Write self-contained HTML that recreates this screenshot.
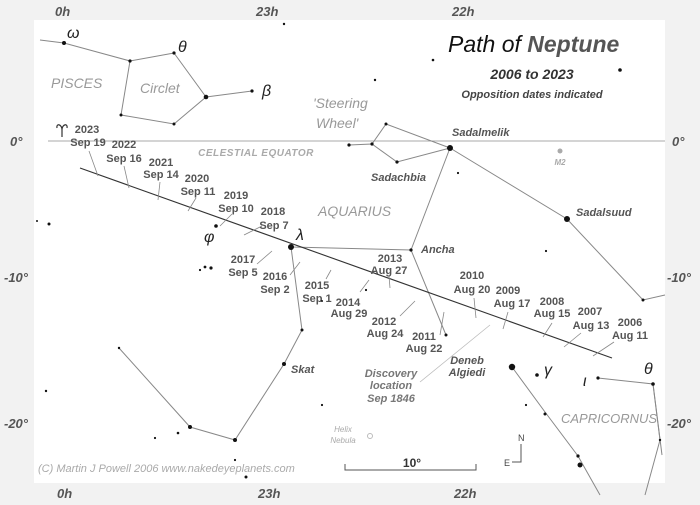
<!DOCTYPE html>
<html><head><meta charset="utf-8"><style>
html,body{margin:0;padding:0;background:#f2f2f2;}
svg{display:block;}
text{font-family:"Liberation Sans",Arial,sans-serif;}
.d{font-size:11px;font-weight:bold;fill:#555;text-anchor:middle;}
.ax{font-size:13px;font-weight:bold;font-style:italic;fill:#555;}
.st{font-size:11px;font-weight:bold;font-style:italic;fill:#555;}
.con{font-size:14px;font-style:italic;fill:#999;}
.gr{font-family:"Liberation Serif",serif;font-style:italic;font-size:16px;fill:#222;}
</style></head><body>
<svg width="700" height="505" viewBox="0 0 700 505" xmlns="http://www.w3.org/2000/svg">
<rect x="0" y="0" width="700" height="505" fill="#f2f2f2"/>
<rect x="34" y="20" width="631" height="463" fill="#fff"/>
<g class="ax">
<text x="55" y="16">0h</text><text x="256" y="16">23h</text><text x="452" y="16">22h</text>
<text x="57" y="498">0h</text><text x="258" y="498">23h</text><text x="454" y="498">22h</text>
<text x="10" y="146">0°</text><text x="672" y="146">0°</text>
<text x="4" y="282">-10°</text><text x="667" y="282">-10°</text>
<text x="4" y="428">-20°</text><text x="667" y="428">-20°</text>
</g>
<line x1="48" y1="141" x2="665" y2="141" stroke="#aaa" stroke-width="1"/>
<text x="256" y="156" style="font-size:10px;font-weight:bold;font-style:italic;fill:#aaa;text-anchor:middle;letter-spacing:0.5px">CELESTIAL EQUATOR</text>
<g stroke="#888" stroke-width="1" fill="none">
<polyline points="40,40 64,43 130,61 174,53"/>
<polyline points="130,61 121,115 174,124 206,97 174,53"/>
<line x1="206" y1="97" x2="252" y2="91"/>
<polyline points="349,145 372,144 386,124 450,148"/>
<polyline points="372,144 397,162 450,148"/>
<polyline points="450,148 567,219 643,300 665,295"/>
<line x1="450" y1="148" x2="411" y2="250"/>
<line x1="291" y1="247" x2="411" y2="250"/>
<line x1="411" y1="250" x2="446" y2="335"/>
<polyline points="291,247 302,330 284,364 235,440 190,427 119,348"/>
<polyline points="512,367 545,412 578,456 600,495"/>
<polyline points="598,378 653,384 660,440 645,495"/>
<line x1="653" y1="384" x2="662" y2="455"/>
</g>
<line x1="80" y1="168" x2="612" y2="358" stroke="#333" stroke-width="1.1"/>
<g stroke="#888" stroke-width="0.8">
<line x1="89" y1="151" x2="98" y2="176"/>
<line x1="124" y1="166" x2="129" y2="188"/>
<line x1="160" y1="182" x2="158" y2="200"/>
<line x1="196" y1="198" x2="188" y2="211"/>
<line x1="232" y1="214" x2="220" y2="226"/>
<line x1="262" y1="226" x2="244" y2="235"/>
<line x1="257" y1="264" x2="272" y2="251"/>
<line x1="290" y1="275" x2="300" y2="262"/>
<line x1="326" y1="279" x2="331" y2="270"/>
<line x1="360" y1="292" x2="369" y2="280"/>
<line x1="389" y1="276" x2="390" y2="288"/>
<line x1="400" y1="316" x2="415" y2="301"/>
<line x1="440" y1="335" x2="444" y2="312"/>
<line x1="474" y1="298" x2="476" y2="318"/>
<line x1="508" y1="312" x2="503" y2="329"/>
<line x1="552" y1="323" x2="543" y2="337"/>
<line x1="581" y1="333" x2="564" y2="347"/>
<line x1="614" y1="342" x2="593" y2="356"/>
<line x1="420" y1="382" x2="490" y2="325" stroke="#bbb"/>
</g>
<g class="d">
<text x="87" y="133">2023</text><text x="88" y="146">Sep 19</text>
<text x="124" y="148">2022</text><text x="124" y="162">Sep 16</text>
<text x="161" y="166">2021</text><text x="161" y="178">Sep 14</text>
<text x="197" y="182">2020</text><text x="198" y="195">Sep 11</text>
<text x="236" y="199">2019</text><text x="236" y="212">Sep 10</text>
<text x="273" y="215">2018</text><text x="274" y="229">Sep 7</text>
<text x="243" y="263">2017</text><text x="243" y="276">Sep 5</text>
<text x="275" y="280">2016</text><text x="275" y="293">Sep 2</text>
<text x="317" y="289">2015</text><text x="317" y="302">Sep 1</text>
<text x="390" y="262">2013</text><text x="389" y="274">Aug 27</text>
<text x="348" y="306">2014</text><text x="349" y="317">Aug 29</text>
<text x="384" y="325">2012</text><text x="385" y="337">Aug 24</text>
<text x="424" y="340">2011</text><text x="424" y="352">Aug 22</text>
<text x="472" y="279">2010</text><text x="472" y="293">Aug 20</text>
<text x="508" y="294">2009</text><text x="512" y="307">Aug 17</text>
<text x="552" y="305">2008</text><text x="552" y="317">Aug 15</text>
<text x="590" y="315">2007</text><text x="591" y="329">Aug 13</text>
<text x="630" y="326">2006</text><text x="630" y="339">Aug 11</text>
</g>
<g fill="#111">
<circle cx="64" cy="43" r="2"/><circle cx="130" cy="61" r="1.6"/><circle cx="174" cy="53" r="1.6"/>
<circle cx="206" cy="97" r="2.3"/><circle cx="252" cy="91" r="1.6"/><circle cx="121" cy="115" r="1.5"/>
<circle cx="174" cy="124" r="1.5"/><circle cx="284" cy="24" r="1.2"/><circle cx="433" cy="60" r="1.3"/>
<circle cx="375" cy="80" r="1.2"/><circle cx="620" cy="70" r="1.8"/>
<circle cx="386" cy="124" r="1.5"/><circle cx="372" cy="144" r="1.6"/><circle cx="349" cy="145" r="1.6"/>
<circle cx="397" cy="162" r="1.6"/><circle cx="450" cy="148" r="3"/><circle cx="458" cy="173" r="1.1"/>
<circle cx="567" cy="219" r="3"/><circle cx="546" cy="251" r="1.1"/><circle cx="643" cy="300" r="1.5"/>
<circle cx="411" cy="250" r="1.6"/><circle cx="291" cy="247" r="3"/><circle cx="446" cy="335" r="1.5"/>
<circle cx="366" cy="290" r="1.1"/><circle cx="216" cy="226" r="1.8"/>
<circle cx="37" cy="221" r="1"/><circle cx="49" cy="224" r="1.5"/>
<circle cx="200" cy="270" r="1.1"/><circle cx="205" cy="267" r="1.4"/><circle cx="211" cy="268" r="1.6"/>
<circle cx="302" cy="330" r="1.5"/><circle cx="284" cy="364" r="2"/><circle cx="119" cy="348" r="1.2"/>
<circle cx="46" cy="391" r="1.2"/><circle cx="190" cy="427" r="2"/><circle cx="178" cy="433" r="1.3"/>
<circle cx="155" cy="438" r="1.1"/><circle cx="235" cy="440" r="2"/><circle cx="235" cy="460" r="1.1"/>
<circle cx="246" cy="477" r="1.5"/><circle cx="322" cy="405" r="1.1"/><circle cx="322" cy="301" r="1"/>
<circle cx="512" cy="367" r="3.2"/><circle cx="537" cy="375" r="1.8"/><circle cx="526" cy="405" r="1.1"/>
<circle cx="545" cy="414" r="1.5"/><circle cx="578" cy="456" r="1.6"/><circle cx="580" cy="465" r="2.5"/>
<circle cx="598" cy="378" r="1.6"/><circle cx="653" cy="384" r="1.8"/><circle cx="660" cy="440" r="1.2"/>
</g>
<circle cx="560" cy="151" r="2.5" fill="#aaa"/>
<circle cx="370" cy="436" r="2.5" fill="none" stroke="#bbb" stroke-width="1"/>
<!-- aries symbol -->
<path d="M62,137 L62,130 C62,124 56,123 57,128 M62,130 C62,124 68,123 67,128" fill="none" stroke="#333" stroke-width="1.2"/>
<g class="gr">
<text x="67" y="38">ω</text><text x="178" y="52">θ</text><text x="262" y="96">β</text>
<text x="204" y="242">φ</text><text x="296" y="240">λ</text>
<text x="544" y="375">γ</text><text x="583" y="386">ι</text><text x="644" y="374">θ</text>
</g>
<g class="con">
<text x="51" y="88">PISCES</text><text x="140" y="93">Circlet</text>
<text x="313" y="108">'Steering</text><text x="316" y="128">Wheel'</text>
<text x="318" y="216">AQUARIUS</text><text x="561" y="423" style="font-size:13px">CAPRICORNUS</text>
</g>
<g class="st">
<text x="452" y="136">Sadalmelik</text><text x="371" y="181">Sadachbia</text>
<text x="576" y="216">Sadalsuud</text><text x="421" y="253">Ancha</text>
<text x="291" y="373">Skat</text>
<text x="467" y="364" text-anchor="middle">Deneb</text><text x="467" y="376" text-anchor="middle">Algiedi</text>
<g style="fill:#777" text-anchor="middle"><text x="391" y="377">Discovery</text><text x="391" y="389">location</text><text x="391" y="402">Sep 1846</text></g>
</g>
<text x="560" y="165" style="font-size:8px;font-style:italic;font-weight:bold;fill:#aaa;text-anchor:middle">M2</text>
<text x="343" y="432" style="font-size:8px;font-style:italic;fill:#aaa;text-anchor:middle">Helix</text>
<text x="343" y="443" style="font-size:8px;font-style:italic;fill:#aaa;text-anchor:middle">Nebula</text>
<text x="448" y="52" style="font-size:23px;font-style:italic;fill:#111">Path of <tspan style="font-weight:bold;fill:#555">Neptune</tspan></text>
<text x="532" y="79" style="font-size:14px;font-weight:bold;font-style:italic;fill:#333;text-anchor:middle">2006 to 2023</text>
<text x="532" y="98" style="font-size:11px;font-weight:bold;font-style:italic;fill:#444;text-anchor:middle">Opposition dates indicated</text>
<polyline points="345,464 345,470 476,470 476,464" fill="none" stroke="#555" stroke-width="1"/>
<text x="412" y="467" style="font-size:12px;font-weight:bold;fill:#333;text-anchor:middle">10°</text>
<polyline points="521,444 521,462 512,462" fill="none" stroke="#555" stroke-width="1"/>
<text x="518" y="441" style="font-size:9px;fill:#444">N</text>
<text x="504" y="466" style="font-size:9px;fill:#444">E</text>
<text x="38" y="472" style="font-size:11px;font-style:italic;fill:#aaa">(C) Martin J Powell  2006  www.nakedeyeplanets.com</text>
</svg>
</body></html>
